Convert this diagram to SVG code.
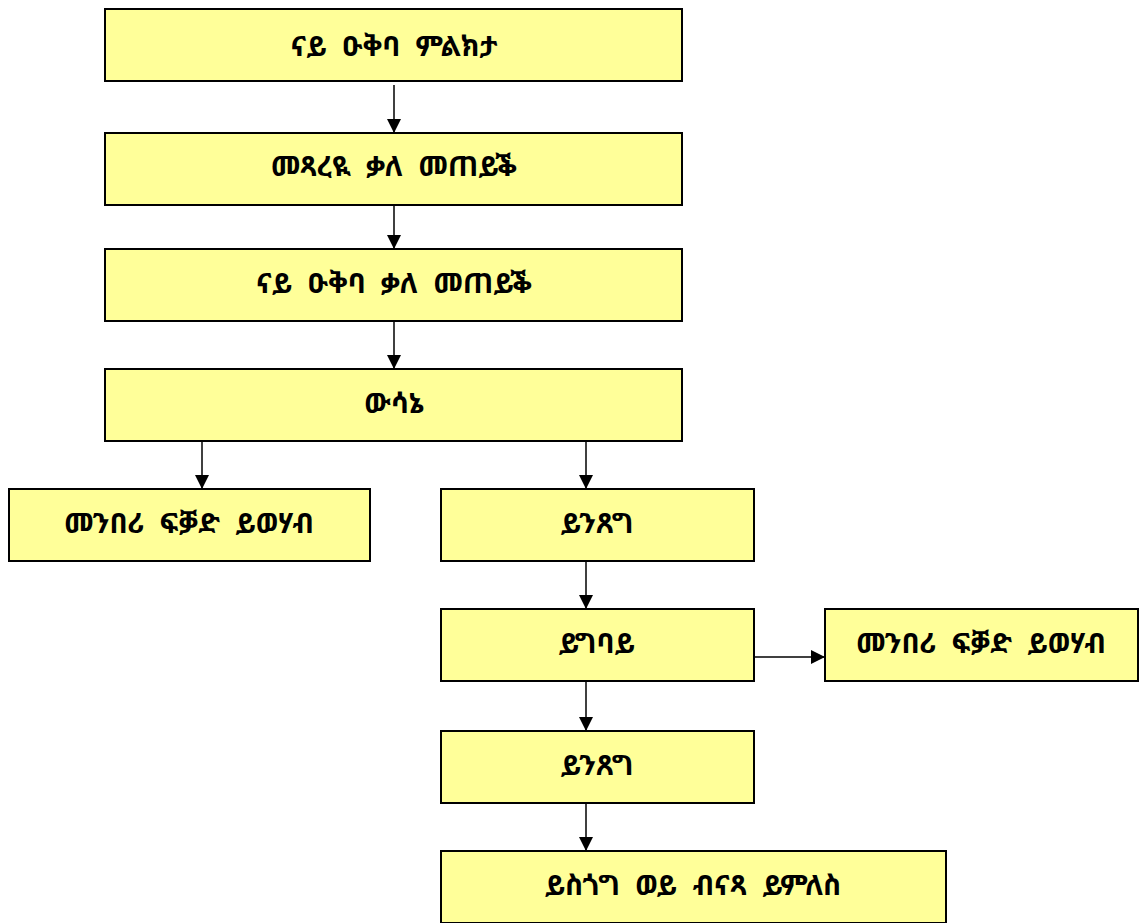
<svg xmlns="http://www.w3.org/2000/svg" width="1146" height="923" viewBox="0 0 1146 923">
<style>
.box{fill:#FFFF99;stroke:#000;stroke-width:2}
.t{font-family:"Noto Sans Ethiopic","Abyssinica SIL","DejaVu Sans","Noto Sans",sans-serif;font-size:28px;font-weight:bold;text-anchor:middle;dominant-baseline:central;fill:#000;word-spacing:8px}
.c{stroke:#000;stroke-width:1.5;fill:none;marker-end:url(#ah)}
</style>
<defs>
<marker id="ah" markerWidth="14" markerHeight="14" refX="14" refY="7" orient="auto" markerUnits="userSpaceOnUse"><path d="M0,0 L14,7 L0,14 Z" fill="#000"/></marker>
</defs>
<rect width="1146" height="923" fill="#fff"/>
<g id="connectors">
<line class="c" x1="394" y1="85" x2="394" y2="133"/>
<line class="c" x1="394" y1="205" x2="394" y2="249"/>
<line class="c" x1="394" y1="321" x2="394" y2="369"/>
<line class="c" x1="202" y1="441" x2="202" y2="489"/>
<line class="c" x1="586" y1="441" x2="586" y2="489"/>
<line class="c" x1="586" y1="561" x2="586" y2="609"/>
<line class="c" x1="586" y1="681" x2="586" y2="731"/>
<line class="c" x1="586" y1="803" x2="586" y2="851"/>
<line class="c" x1="754" y1="657" x2="825" y2="657"/>
</g>
<g id="n1"><rect class="box" x="105" y="9" width="577" height="72"/><text class="t" x="394" y="45">ናይ ዑቅባ ምልክታ</text></g>
<g id="n2"><rect class="box" x="105" y="133" width="577" height="72"/><text class="t" x="394" y="165">መጻረዪ ቃለ መጠይቕ</text></g>
<g id="n3"><rect class="box" x="105" y="249" width="577" height="72"/><text class="t" x="394" y="282">ናይ ዑቅባ ቃለ መጠይቕ</text></g>
<g id="n4"><rect class="box" x="105" y="369" width="577" height="72"/><text class="t" x="394" y="402">ውሳኔ</text></g>
<g id="n5"><rect class="box" x="9" y="489" width="361" height="72"/><text class="t" x="189" y="522">መንበሪ ፍቓድ ይወሃብ</text></g>
<g id="n6"><rect class="box" x="441" y="489" width="313" height="72"/><text class="t" x="597" y="522">ይንጸግ</text></g>
<g id="n7"><rect class="box" x="441" y="609" width="313" height="72"/><text class="t" x="597" y="642">ይግባይ</text></g>
<g id="n8"><rect class="box" x="825" y="609" width="313" height="72"/><text class="t" x="981" y="642">መንበሪ ፍቓድ ይወሃብ</text></g>
<g id="n9"><rect class="box" x="441" y="731" width="313" height="72"/><text class="t" x="597" y="764">ይንጸግ</text></g>
<g id="n10"><rect class="box" x="441" y="851" width="505" height="72"/><text class="t" x="693" y="884">ይስጎግ ወይ ብናጻ ይምለስ</text></g>
</svg>
